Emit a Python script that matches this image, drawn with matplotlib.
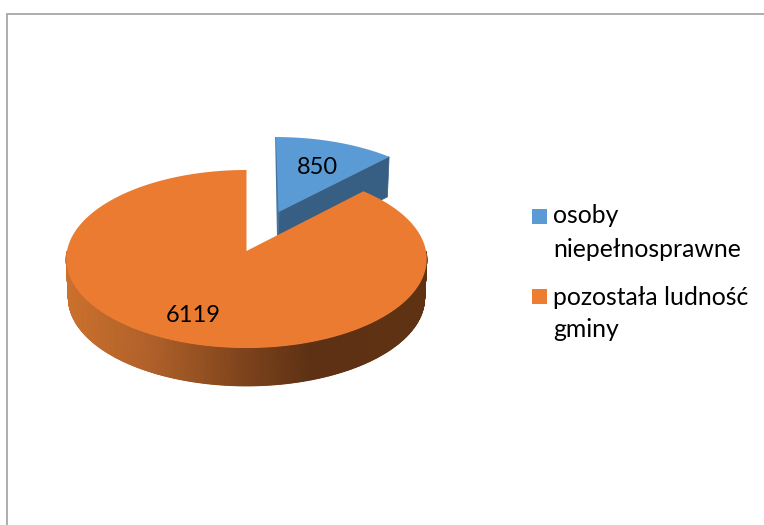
import numpy as np
import matplotlib
matplotlib.use("Agg")
import matplotlib.pyplot as plt
from matplotlib.colors import LinearSegmentedColormap

categories = ["osoby\nniepełnosprawne", "pozostała ludność\ngminy"]
values = [850, 6119]
top_colors = ["#5B9BD5", "#EB7B30"]
legend_colors = ["#5B9BD5", "#ED7D31"]
explode = [0.496, 0.0]

plt.rcParams["font.family"] = ["Lato", "DejaVu Sans"]

W, H = 764, 525
fig = plt.figure(figsize=(W / 100, H / 100), dpi=100)
ax = fig.add_axes([0, 0, 1, 1])
ax.set_xlim(0, W)
ax.set_ylim(H, 0)
ax.axis("off")

# camera model of the tilted disc
CX, CY, A, B, K, DEPTH, BOTTOM_SCALE = 246.5, 251.0, 179.5, 88.3, 0.09, 39.0, 0.988


def project(theta, r, e, mid, bottom=False):
    """theta measured clockwise from 12 o'clock, in radians."""
    u = r * np.sin(theta) + e * np.sin(mid)
    v = r * np.cos(theta) + e * np.cos(mid)
    d = 1 + K * v
    s = BOTTOM_SCALE if bottom else 1.0
    x = CX + s * A * u / d
    y = CY + (DEPTH if bottom else 0.0) - s * B * v / d
    return x, y


fractions = np.array(values, dtype=float) / sum(values)
edges = np.concatenate([[0.0], np.cumsum(fractions)]) * 2 * np.pi

# ---- exploded slice (blue)
t0, t1 = edges[0], edges[1]
mid = (t0 + t1) / 2
e = explode[0]
ts = np.linspace(t0, t1, 60)
ax_, ay_ = project(0.0, 0.0, e, mid)
bx_, by_ = project(0.0, 0.0, e, mid, bottom=True)
cx_, cy_ = project(t1, 1.0, e, mid)
dx_, dy_ = project(t1, 1.0, e, mid, bottom=True)
ax.fill([ax_, cx_, dx_, bx_], [ay_, cy_, dy_, by_], color="#375E83", lw=0.5, zorder=1)
lx, ly = project(t0, 1.0, e, mid)
ax.fill([lx - 0.8, lx + 1, ax_ + 1, bx_ - 0.2, bx_ - 0.8],
        [ly, ly, ay_, by_, by_], color="#47739E", lw=0, zorder=1)
x, y = project(ts, 1.0, e, mid)
ax.fill(np.r_[ax_, x], np.r_[ay_, y], color=top_colors[0], lw=0, zorder=2)

# ---- main slice (orange): shaded rim, then top face
t0, t1 = edges[1], edges[2]
mid = (t0 + t1) / 2
cmap = LinearSegmentedColormap.from_list(
    "rim",
    [(0.00, "#CB702D"), (0.23, "#B0612A"), (0.49, "#7F441C"),
     (0.68, "#5E3114"), (1.00, "#5F3213")],
)
rim = np.linspace(np.pi * 0.5, np.pi * 1.5, 361)
xt, yt = project(rim, 1.0, 0, mid)
xb, yb = project(rim, 1.0, 0, mid, bottom=True)
X = np.vstack([xt, xb])
Y = np.vstack([yt, yb])
ax.pcolormesh(X, Y, (X - 68) / 356.0, shading="gouraud", cmap=cmap,
              vmin=0, vmax=1, zorder=3, rasterized=True)
ax.set_xlim(0, W)
ax.set_ylim(H, 0)

ts = np.linspace(t0, t1, 400)
x, y = project(ts, 1.0, 0, mid)
ax.fill(np.r_[CX, x], np.r_[CY, y], color=top_colors[1], lw=0, zorder=4)

# ---- data labels
for val, (lx, ly) in zip(values, [(317, 167), (193, 315)]):
    ax.text(lx, ly, str(val), fontsize=17, color="black",
            ha="center", va="center", zorder=6)

# ---- legend
swatch_y = [209, 289]
baselines = [[223, 257], [305, 337]]
for cat, col, sy, bases in zip(categories, legend_colors, swatch_y, baselines):
    ax.fill([532, 547, 547, 532], [sy, sy, sy + 15, sy + 15], color=col, lw=0, zorder=6)
    for line, base in zip(cat.split("\n"), bases):
        ax.text(553, base, line, fontsize=17.8, color="black",
                ha="left", va="baseline", zorder=6)

# ---- chart frame (left and top only are inside the crop)
ax.plot([6.5, 6.5, W], [H, 13.5, 13.5], color="#A0A0A0", lw=1.2, zorder=0,
        solid_joinstyle="miter")

fig.savefig("out.png", dpi=100)
